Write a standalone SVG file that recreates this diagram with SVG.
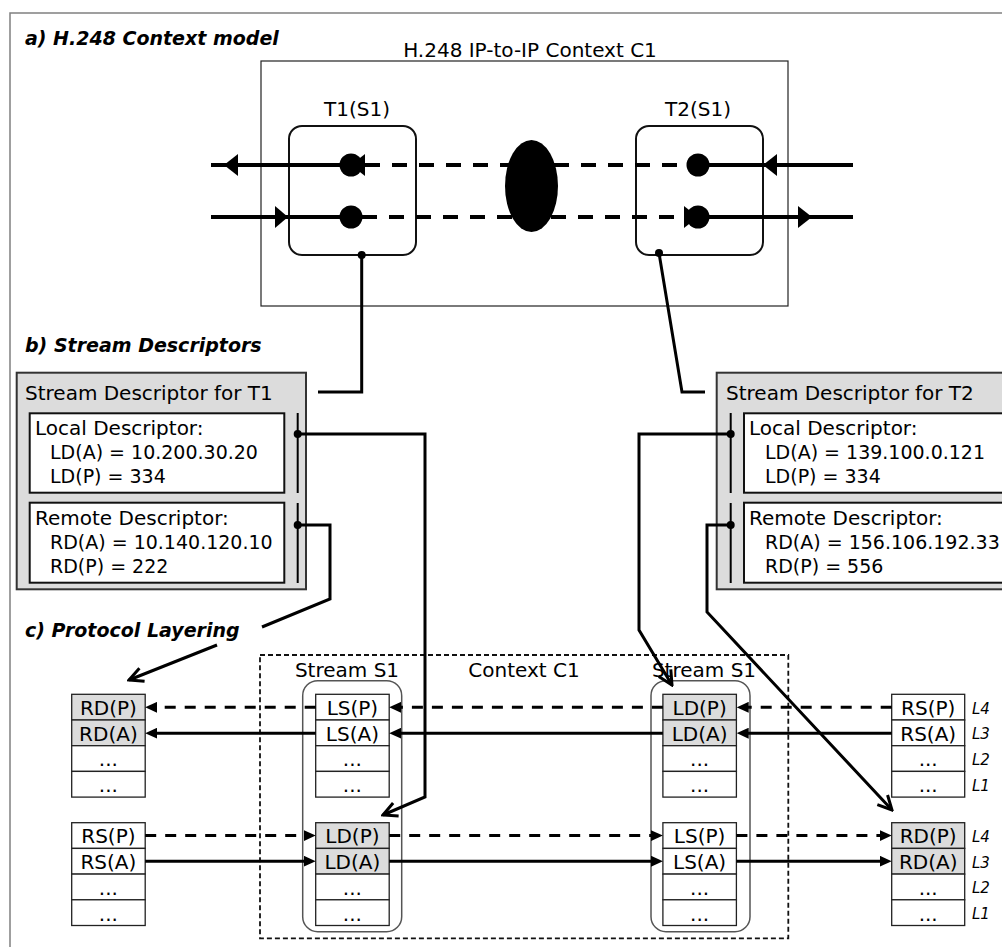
<svg xmlns="http://www.w3.org/2000/svg" width="1002" height="947" viewBox="0 0 1002 947">
<defs>
<style>
text{font-family:"DejaVu Sans","Liberation Sans",sans-serif;font-size:20px;fill:#000}
.t{font-weight:bold;font-style:italic;font-size:19px}
.c{text-anchor:middle}
.v{font-size:19px}
.L{font-style:italic;font-size:15px}
.cell{fill:#fff;stroke:#222;stroke-width:1.3}
.gc{fill:#dcdcdc;stroke:#222;stroke-width:1.3}
.ln{stroke:#000;stroke-width:3;fill:none}
.ds{stroke-dasharray:11 9}
.bk{fill:#000;stroke:none}
.tl{stroke:#000;stroke-width:4;fill:none}
.box{fill:#fff;stroke:#111;stroke-width:2}
.gbox{fill:#dcdcdc;stroke:#333;stroke-width:2}
.bar{stroke:#000;stroke-width:2}
</style>
<marker id="ah" viewBox="0 0 12 11" refX="4" refY="5.5" markerWidth="12" markerHeight="11" markerUnits="userSpaceOnUse" orient="auto">
<path d="M0,0 L12,5.5 L0,11 z" fill="#000"/>
</marker>
<marker id="oa" viewBox="0 0 18 18" refX="16" refY="9" markerWidth="18" markerHeight="18" markerUnits="userSpaceOnUse" orient="auto">
<path d="M2,2 L16,9 L2,16" fill="none" stroke="#000" stroke-width="3"/>
</marker>
</defs>
<rect x="0" y="0" width="1002" height="947" fill="#fff"/>
<rect x="10" y="13" width="1000" height="940" fill="none" stroke="#808080" stroke-width="1.5"/>

<text class="t" x="25" y="45">a) H.248 Context model</text>
<text class="t" x="25" y="352">b) Stream Descriptors</text>
<text class="t" x="25" y="637">c) Protocol Layering</text>

<g id="context-c1">
<rect x="261" y="61" width="527" height="245" fill="none" stroke="#222" stroke-width="1.2"/>
<text class="c" x="530" y="57">H.248 IP-to-IP Context C1</text>
</g>

<g id="t1">
<rect x="289" y="126" width="127" height="129" rx="13" fill="none" stroke="#111" stroke-width="2"/>
<text class="c" x="357" y="116">T1(S1)</text>
</g>
<g id="t2">
<rect x="636" y="126" width="127" height="129" rx="13" fill="none" stroke="#111" stroke-width="2"/>
<text class="c" x="698" y="116">T2(S1)</text>
</g>

<g id="media-flows">
<line class="tl" x1="365" y1="165" x2="688" y2="165" stroke-dasharray="15 12"/>
<line class="tl" x1="362" y1="217" x2="684" y2="217" stroke-dasharray="15 12"/>
<line class="tl" x1="211" y1="165" x2="351" y2="165"/>
<line class="tl" x1="211" y1="217" x2="351" y2="217"/>
<line class="tl" x1="698" y1="165" x2="853" y2="165"/>
<line class="tl" x1="698" y1="217" x2="853" y2="217"/>
<polygon class="bk" points="224,165 238,154 238,176"/>
<polygon class="bk" points="288,217 275,206 275,228"/>
<polygon class="bk" points="763,165 777,154 777,176"/>
<polygon class="bk" points="812,217 798,206 798,228"/>
<circle class="bk" cx="351" cy="165" r="11.5"/>
<polygon class="bk" points="351,165 365,154 365,176"/>
<circle class="bk" cx="351" cy="217" r="11.5"/>
<circle class="bk" cx="698" cy="165" r="11.5"/>
<circle class="bk" cx="698" cy="217" r="11.5"/>
<polygon class="bk" points="684,206 698,217 684,228"/>
<ellipse class="bk" cx="531.5" cy="186" rx="26.5" ry="46"/>
</g>

<g id="sd-t1">
<rect class="gbox" x="16.7" y="372.7" width="289.3" height="216.6"/>
<text x="25" y="400">Stream Descriptor for T1</text>
<rect class="box" x="29.7" y="413.3" width="254.6" height="79.4"/>
<text x="35" y="435">Local Descriptor:</text>
<text class="v" x="50" y="459">LD(A) = 10.200.30.20</text>
<text class="v" x="50" y="483">LD(P) = 334</text>
<rect class="box" x="29.7" y="502.7" width="254.6" height="80"/>
<text x="35" y="525">Remote Descriptor:</text>
<text class="v" x="50" y="549">RD(A) = 10.140.120.10</text>
<text class="v" x="50" y="573">RD(P) = 222</text>
<line class="bar" x1="297.7" y1="413" x2="297.7" y2="493"/>
<line class="bar" x1="297.7" y1="503" x2="297.7" y2="583"/>
</g>

<g id="sd-t2">
<rect class="gbox" x="716.7" y="372.7" width="300" height="216.6"/>
<text x="726" y="400">Stream Descriptor for T2</text>
<rect class="box" x="744" y="413.3" width="280" height="79.4"/>
<text x="749" y="435">Local Descriptor:</text>
<text class="v" x="765" y="459">LD(A) = 139.100.0.121</text>
<text class="v" x="765" y="483">LD(P) = 334</text>
<rect class="box" x="744" y="502.7" width="280" height="80"/>
<text x="749" y="525">Remote Descriptor:</text>
<text class="v" x="765" y="549">RD(A) = 156.106.192.33</text>
<text class="v" x="765" y="573">RD(P) = 556</text>
<line class="bar" x1="730.7" y1="413" x2="730.7" y2="493"/>
<line class="bar" x1="730.7" y1="503" x2="730.7" y2="583"/>
</g>

<g id="context-c1-layers">
<rect x="260" y="655" width="528.3" height="283.3" fill="none" stroke="#111" stroke-width="1.8" stroke-dasharray="5 3"/>
<text class="c" x="524" y="677">Context C1</text>
</g>
<g id="stream-s1-left">
<rect x="302.7" y="680.7" width="99" height="251" rx="15" fill="none" stroke="#555" stroke-width="1.5"/>
<text class="c" x="347" y="677">Stream S1</text>
</g>
<g id="stream-s1-right">
<rect x="651" y="680.7" width="99" height="251" rx="15" fill="none" stroke="#555" stroke-width="1.5"/>
<text class="c" x="704" y="677">Stream S1</text>
</g>

<g id="stack-a">
<rect class="gc" x="71.7" y="694.3" width="73.5" height="25.7"/>
<rect class="gc" x="71.7" y="720" width="73.5" height="25.7"/>
<rect class="cell" x="71.7" y="745.7" width="73.5" height="25.7"/>
<rect class="cell" x="71.7" y="771.4" width="73.5" height="25.7"/>
<text class="c" x="108.4" y="715">RD(P)</text>
<text class="c" x="108.4" y="740.7">RD(A)</text>
<text class="c" x="108.4" y="766.4">...</text>
<text class="c" x="108.4" y="792.1">...</text>
</g>
<g id="stack-b">
<rect class="cell" x="71.7" y="822.7" width="73.5" height="25.7"/>
<rect class="cell" x="71.7" y="848.4" width="73.5" height="25.7"/>
<rect class="cell" x="71.7" y="874.1" width="73.5" height="25.7"/>
<rect class="cell" x="71.7" y="899.8" width="73.5" height="25.7"/>
<text class="c" x="108.4" y="843.4">RS(P)</text>
<text class="c" x="108.4" y="869.1">RS(A)</text>
<text class="c" x="108.4" y="894.8">...</text>
<text class="c" x="108.4" y="920.5">...</text>
</g>
<g id="stack-c">
<rect class="cell" x="315.7" y="694.3" width="73.5" height="25.7"/>
<rect class="cell" x="315.7" y="720" width="73.5" height="25.7"/>
<rect class="cell" x="315.7" y="745.7" width="73.5" height="25.7"/>
<rect class="cell" x="315.7" y="771.4" width="73.5" height="25.7"/>
<text class="c" x="352.4" y="715">LS(P)</text>
<text class="c" x="352.4" y="740.7">LS(A)</text>
<text class="c" x="352.4" y="766.4">...</text>
<text class="c" x="352.4" y="792.1">...</text>
</g>
<g id="stack-d">
<rect class="gc" x="315.7" y="822.7" width="73.5" height="25.7"/>
<rect class="gc" x="315.7" y="848.4" width="73.5" height="25.7"/>
<rect class="cell" x="315.7" y="874.1" width="73.5" height="25.7"/>
<rect class="cell" x="315.7" y="899.8" width="73.5" height="25.7"/>
<text class="c" x="352.4" y="843.4">LD(P)</text>
<text class="c" x="352.4" y="869.1">LD(A)</text>
<text class="c" x="352.4" y="894.8">...</text>
<text class="c" x="352.4" y="920.5">...</text>
</g>
<g id="stack-e">
<rect class="gc" x="662.9" y="694.3" width="73.5" height="25.7"/>
<rect class="gc" x="662.9" y="720" width="73.5" height="25.7"/>
<rect class="cell" x="662.9" y="745.7" width="73.5" height="25.7"/>
<rect class="cell" x="662.9" y="771.4" width="73.5" height="25.7"/>
<text class="c" x="699.6" y="715">LD(P)</text>
<text class="c" x="699.6" y="740.7">LD(A)</text>
<text class="c" x="699.6" y="766.4">...</text>
<text class="c" x="699.6" y="792.1">...</text>
</g>
<g id="stack-f">
<rect class="cell" x="662.9" y="822.7" width="73.5" height="25.7"/>
<rect class="cell" x="662.9" y="848.4" width="73.5" height="25.7"/>
<rect class="cell" x="662.9" y="874.1" width="73.5" height="25.7"/>
<rect class="cell" x="662.9" y="899.8" width="73.5" height="25.7"/>
<text class="c" x="699.6" y="843.4">LS(P)</text>
<text class="c" x="699.6" y="869.1">LS(A)</text>
<text class="c" x="699.6" y="894.8">...</text>
<text class="c" x="699.6" y="920.5">...</text>
</g>
<g id="stack-g">
<rect class="cell" x="891.7" y="694.3" width="73" height="25.7"/>
<rect class="cell" x="891.7" y="720" width="73" height="25.7"/>
<rect class="cell" x="891.7" y="745.7" width="73" height="25.7"/>
<rect class="cell" x="891.7" y="771.4" width="73" height="25.7"/>
<text class="c" x="928.2" y="715">RS(P)</text>
<text class="c" x="928.2" y="740.7">RS(A)</text>
<text class="c" x="928.2" y="766.4">...</text>
<text class="c" x="928.2" y="792.1">...</text>
</g>
<g id="stack-h">
<rect class="gc" x="891.7" y="822.7" width="73" height="25.7"/>
<rect class="gc" x="891.7" y="848.4" width="73" height="25.7"/>
<rect class="cell" x="891.7" y="874.1" width="73" height="25.7"/>
<rect class="cell" x="891.7" y="899.8" width="73" height="25.7"/>
<text class="c" x="928.2" y="843.4">RD(P)</text>
<text class="c" x="928.2" y="869.1">RD(A)</text>
<text class="c" x="928.2" y="894.8">...</text>
<text class="c" x="928.2" y="920.5">...</text>
</g>
<g id="layer-labels">
<text class="L" x="972" y="713.5">L4</text>
<text class="L" x="972" y="739.2">L3</text>
<text class="L" x="972" y="764.9">L2</text>
<text class="L" x="972" y="790.6">L1</text>
<text class="L" x="972" y="841.9">L4</text>
<text class="L" x="972" y="867.6">L3</text>
<text class="L" x="972" y="893.3">L2</text>
<text class="L" x="972" y="919">L1</text>
</g>

<g id="connectors">
<path class="ln" d="M361.7,255 V392 H318"/>
<circle class="bk" cx="361.7" cy="255" r="4"/>
<path class="ln" d="M659,253 L682,392 H705"/>
<circle class="bk" cx="659" cy="253" r="4"/>

<path class="ln" d="M297.7,434 H425 V797 L383,815" marker-end="url(#oa)"/>
<circle class="bk" cx="297.7" cy="434" r="4"/>
<path class="ln" d="M297.7,525 H330 V599 L262,627"/>
<path class="ln" d="M217,645 L129,680" marker-end="url(#oa)"/>
<circle class="bk" cx="297.7" cy="525" r="4"/>
<path class="ln" d="M730.7,434 H639 V630 L672,685" marker-end="url(#oa)"/>
<circle class="bk" cx="730.7" cy="434" r="4"/>
<path class="ln" d="M730.7,525 H707 V612 L892,810" marker-end="url(#oa)"/>
<circle class="bk" cx="730.7" cy="525" r="4"/>

<line class="ln ds" x1="891.7" y1="707.3" x2="744.7" y2="707.3" marker-end="url(#ah)"/>
<line class="ln ds" x1="662.9" y1="707.3" x2="397.2" y2="707.3" marker-end="url(#ah)"/>
<line class="ln ds" x1="315.7" y1="707.3" x2="153.2" y2="707.3" marker-end="url(#ah)"/>
<line class="ln" x1="891.7" y1="733.2" x2="744.7" y2="733.2" marker-end="url(#ah)"/>
<line class="ln" x1="662.9" y1="733.2" x2="397.2" y2="733.2" marker-end="url(#ah)"/>
<line class="ln" x1="315.7" y1="733.2" x2="153.2" y2="733.2" marker-end="url(#ah)"/>

<line class="ln ds" x1="145.2" y1="835.6" x2="307.7" y2="835.6" marker-end="url(#ah)"/>
<line class="ln ds" x1="389.2" y1="835.6" x2="654.9" y2="835.6" marker-end="url(#ah)"/>
<line class="ln ds" x1="736.4" y1="835.6" x2="883.7" y2="835.6" marker-end="url(#ah)"/>
<line class="ln" x1="145.2" y1="861.2" x2="307.7" y2="861.2" marker-end="url(#ah)"/>
<line class="ln" x1="389.2" y1="861.2" x2="654.9" y2="861.2" marker-end="url(#ah)"/>
<line class="ln" x1="736.4" y1="861.2" x2="883.7" y2="861.2" marker-end="url(#ah)"/>
</g>
</svg>
